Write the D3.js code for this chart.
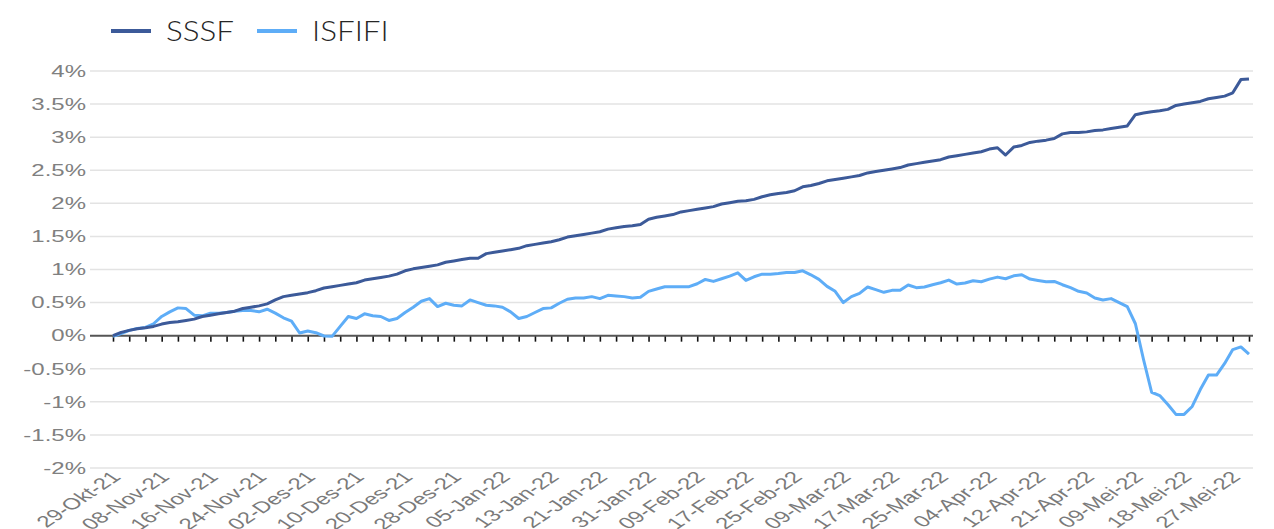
<!DOCTYPE html>
<html>
<head>
<meta charset="utf-8">
<script src="https://cdn.jsdelivr.net/npm/d3@7/dist/d3.min.js"></script>
<style>
  html, body { margin: 0; padding: 0; background: #ffffff; }
  svg { display: block; }
</style>
</head>
<body>
<svg id="chart" width="1274" height="529"></svg>
<script>
// ---- data ----
const seriesNames = ["SSSF", "ISFIFI"];
const seriesColors = ["#3c5a99", "#5eadf7"];

const tickLabels = ["29-Okt-21", "08-Nov-21", "16-Nov-21", "24-Nov-21", "02-Des-21", "10-Des-21",
  "20-Des-21", "28-Des-21", "05-Jan-22", "13-Jan-22", "21-Jan-22", "31-Jan-22", "09-Feb-22",
  "17-Feb-22", "25-Feb-22", "09-Mar-22", "17-Mar-22", "25-Mar-22", "04-Apr-22", "12-Apr-22",
  "21-Apr-22", "09-Mei-22", "18-Mei-22", "27-Mei-22"];

const yTicks = [-2, -1.5, -1, -0.5, 0, 0.5, 1, 1.5, 2, 2.5, 3, 3.5, 4];

// cumulative returns in %, one value per trading day (141 days, labels every 6th day)
const sssf = [0, 0.05, 0.08, 0.105, 0.12, 0.14, 0.175, 0.20, 0.21, 0.23, 0.25, 0.29, 0.31, 0.33, 0.35, 0.37,
  0.41, 0.43, 0.45, 0.48, 0.54, 0.59, 0.61, 0.63, 0.65, 0.68, 0.72, 0.74, 0.76, 0.78, 0.80, 0.84, 0.86, 0.88,
  0.90, 0.93, 0.98,
  1.01, 1.03, 1.05, 1.07, 1.11, 1.13, 1.15, 1.17, 1.17, 1.24, 1.26, 1.28, 1.30, 1.32, 1.36, 1.38, 1.40, 1.42,
  1.45, 1.49, 1.51, 1.53, 1.55, 1.57, 1.61, 1.63, 1.65, 1.66, 1.68, 1.76, 1.79, 1.81, 1.83, 1.87, 1.89,
  1.91, 1.93, 1.95, 1.99, 2.01, 2.03, 2.04, 2.06, 2.10, 2.13, 2.15, 2.165, 2.19, 2.25, 2.27, 2.30, 2.34, 2.36,
  2.38, 2.40, 2.42, 2.46, 2.48, 2.50, 2.52, 2.54, 2.58, 2.60, 2.62, 2.64, 2.66, 2.70, 2.72, 2.74, 2.76, 2.78,
  2.82, 2.84, 2.73, 2.85, 2.875, 2.92, 2.94, 2.955, 2.98, 3.05, 3.07, 3.07, 3.08, 3.10, 3.11, 3.13, 3.15, 3.17,
  3.34, 3.365, 3.385, 3.40, 3.42, 3.48, 3.50, 3.52, 3.54, 3.58, 3.60, 3.62, 3.67, 3.87, 3.88];

const isfifi = [-0.01, 0.03, 0.08, 0.11, 0.125, 0.18, 0.29, 0.36, 0.42, 0.41, 0.31, 0.30, 0.34, 0.34, 0.35, 0.37,
  0.38, 0.38, 0.36, 0.40, 0.34, 0.27, 0.22, 0.04, 0.07, 0.045, -0.005, -0.01, 0.14, 0.29, 0.26, 0.33, 0.30, 0.29,
  0.23, 0.26, 0.35,
  0.43, 0.52, 0.56, 0.44, 0.49, 0.46, 0.45, 0.54, 0.50, 0.46, 0.45, 0.43, 0.36, 0.26, 0.29, 0.35, 0.41, 0.42,
  0.49, 0.55, 0.57, 0.57, 0.59, 0.56, 0.61, 0.60, 0.59, 0.57, 0.58, 0.67, 0.705, 0.74, 0.74, 0.74, 0.74,
  0.785, 0.85, 0.82, 0.86, 0.90, 0.95, 0.835, 0.89, 0.93, 0.93, 0.94, 0.956, 0.956, 0.98, 0.92, 0.85, 0.745, 0.67,
  0.50, 0.59, 0.64, 0.735, 0.695, 0.655, 0.685, 0.685, 0.765, 0.725, 0.735, 0.77, 0.80, 0.84, 0.78, 0.795, 0.83, 0.815,
  0.855, 0.885, 0.86, 0.905, 0.92, 0.855, 0.835, 0.815, 0.82, 0.77, 0.725, 0.67, 0.645, 0.57, 0.54, 0.56, 0.50, 0.44,
  0.18, -0.36, -0.855, -0.905, -1.04, -1.19, -1.19, -1.07, -0.815, -0.595, -0.595, -0.42, -0.21, -0.17, -0.28];

const labelEvery = 6;
const tickEvery = 2;

// ---- layout ----
const svg = d3.select("#chart");
const plotLeft = 90, plotRight = 1253;
const firstX = 113, lastX = 1249;
const nPts = sssf.length;

const x = d3.scaleLinear().domain([0, nPts - 1]).range([firstX, lastX]);
const y = d3.scaleLinear().domain([-2, 4]).range([468, 71]);
const stretch = 1.5;

// gridlines
svg.append("g").selectAll("line").data(yTicks.filter(d => d !== 0)).join("line")
  .attr("x1", plotLeft).attr("x2", plotRight)
  .attr("y1", d => y(d)).attr("y2", d => y(d))
  .attr("stroke", "#e3e3e3").attr("stroke-width", 1.5);

// y labels
const fmt = d => (d < 0 ? "-" : "") + String(Math.abs(d)) + "%";
svg.append("g").selectAll("text").data(yTicks).join("text")
  .attr("transform", d => `translate(86,${y(d)}) scale(${stretch},1)`)
  .attr("text-anchor", "end")
  .attr("dy", "0.36em")
  .attr("font-family", "Liberation Sans, Arial, sans-serif")
  .attr("font-size", 16)
  .attr("fill", "#808080")
  .text(fmt);

// x axis at 0
const tickIdx = d3.range(0, nPts, tickEvery);
const xAxis = d3.axisBottom(x).tickValues(tickIdx).tickSize(6).tickFormat("");
const gx = svg.append("g").attr("transform", `translate(0,${y(0)})`).call(xAxis);
gx.select(".domain").remove();
gx.selectAll(".tick line").attr("stroke", "#111").attr("stroke-width", 1.6);
svg.append("line")
  .attr("x1", plotLeft).attr("x2", plotRight)
  .attr("y1", y(0)).attr("y2", y(0))
  .attr("stroke", "#555").attr("stroke-width", 2);

// x labels (low position)
svg.append("g").selectAll("text").data(tickLabels).join("text")
  .attr("transform", (d, i) => `translate(${x(i * labelEvery) + 3},${474}) scale(${stretch},1) rotate(-45)`)
  .attr("text-anchor", "end")
  .attr("dy", "0.35em")
  .attr("font-family", "Liberation Sans, Arial, sans-serif")
  .attr("font-size", 16)
  .attr("fill", "#7a7a7a")
  .text(d => d);

// lines
const line = d3.line().x((d, i) => x(i)).y(d => y(d)).curve(d3.curveLinear);
svg.append("path").datum(isfifi)
  .attr("d", line).attr("fill", "none")
  .attr("stroke", seriesColors[1]).attr("stroke-width", 3).attr("stroke-linejoin", "round");
svg.append("path").datum(sssf)
  .attr("d", line).attr("fill", "none")
  .attr("stroke", seriesColors[0]).attr("stroke-width", 3).attr("stroke-linejoin", "round");

// legend
const legendPos = [{lx: 111, tx: 166}, {lx: 257, tx: 312}];
const lg = svg.append("g").selectAll("g").data(seriesNames).join("g");
lg.append("line")
  .attr("x1", (d, i) => legendPos[i].lx).attr("x2", (d, i) => legendPos[i].lx + 40)
  .attr("y1", 31).attr("y2", 31)
  .attr("stroke", (d, i) => seriesColors[i]).attr("stroke-width", 4);
lg.append("text")
  .attr("transform", (d, i) => `translate(${legendPos[i].tx},41) scale(1.12,1)`)
  .attr("font-family", "Lato, 'Open Sans', sans-serif")
  .attr("font-weight", 300)
  .attr("font-size", 28)
  .attr("fill", "#262626")
  .text(d => d);
</script>
</body>
</html>
